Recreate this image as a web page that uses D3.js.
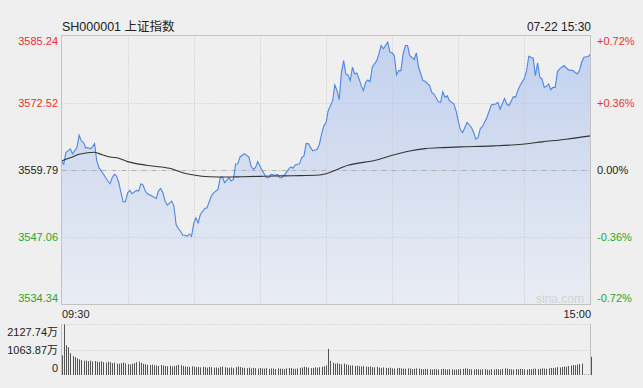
<!DOCTYPE html>
<html>
<head>
<meta charset="utf-8">
<script src="https://cdn.jsdelivr.net/npm/d3@7/dist/d3.min.js"></script>
<style>
body { margin:0; background:#efefef; }
text { font-family: "Liberation Sans", Arial, "Noto Sans CJK SC", sans-serif; }
</style>
</head>
<body>
<svg width="643" height="388"></svg>
<script>
// 分时数据 (minute offset from 09:30, lunch break skipped)
var priceMin = [0,1,2,4,5,7,8,9,10,11,12,13,14,15,16,17,19,21,22,23,24,25,26,27,28,29,30,31,32,34,35,36,37,38,39,41,43,44,45,46,47,48,50,51,52,53,54,55,56,57,58,59,60,61,62,63,65,66,68,69,71,72,73,74,76,77,78,79,80,81,83,85,86,87,88,89,90,91,93,94,95,97,98,99,100,101,103,104,105,106,108,109,110,111,112,113,114,116,117,118,119,120,
  121,122,123,124,125,126,127,128,129,130,131,132,133,134,135,136,137,138,139,140,141,143,144,145,146,148,149,150,151,152,153,154,155,156,157,158,160,161,162,164,165,167,168,169,171,172,173,174,175,176,178,179,180,181,182,184,186,187,188,189,190,191,193,195,197,198,199,201,202,203,205,206,207,208,210,211,212,213,214,215,216,217,218,219,220,221,222,223,224,225,226,228,230,232,234,235,236,237,239,240];
var priceVal = [3561.50,3560.87,3563.08,3563.78,3562.83,3564.03,3566.38,3565.30,3564.98,3563.97,3564.03,3563.78,3564.16,3564.79,3561.50,3560.23,3559.03,3557.70,3557.19,3558.33,3558.97,3558.65,3557.38,3555.48,3553.77,3553.77,3555.48,3555.93,3555.29,3555.93,3555.80,3557.19,3556.94,3555.80,3555.29,3554.85,3554.41,3555.80,3556.31,3555.48,3553.90,3553.14,3553.90,3552.95,3549.47,3548.71,3548.20,3547.44,3547.44,3547.25,3547.69,3547.25,3549.72,3550.73,3549.78,3551.37,3552.51,3552.63,3554.85,3555.48,3556.12,3558.33,3558.46,3557.38,3558.33,3557.70,3558.02,3560.87,3560.99,3562.26,3562.89,3562.26,3560.55,3559.92,3560.23,3561.37,3560.55,3559.73,3558.33,3558.33,3558.97,3558.78,3558.97,3558.33,3558.33,3558.78,3559.92,3560.36,3560.11,3560.74,3560.99,3562.13,3562.45,3564.79,3564.79,3564.03,3563.40,3563.72,3564.67,3566.57,3568.15,3568.72,
  3571.00,3571.95,3572.90,3575.88,3574.80,3573.09,3578.28,3580.50,3577.97,3577.78,3576.70,3579.23,3577.97,3578.16,3577.02,3575.75,3574.80,3576.38,3576.83,3576.51,3579.23,3580.50,3581.77,3583.35,3582.72,3583.98,3582.08,3581.96,3581.45,3577.78,3578.60,3578.60,3581.77,3583.35,3583.35,3581.45,3580.69,3581.96,3579.23,3576.70,3576.57,3575.75,3574.48,3574.17,3572.71,3572.58,3574.61,3573.53,3573.85,3572.90,3572.27,3571.00,3569.10,3567.39,3566.88,3568.78,3567.83,3566.88,3565.62,3565.93,3567.64,3568.02,3569.73,3572.08,3572.27,3572.58,3571.32,3573.34,3572.27,3571.95,3573.66,3573.53,3574.80,3575.75,3577.14,3578.60,3581.32,3581.13,3580.94,3577.65,3580.06,3577.33,3577.02,3575.43,3575.62,3576.07,3574.99,3575.43,3575.43,3578.41,3578.92,3579.55,3578.73,3578.60,3577.97,3578.60,3580.18,3581.13,3581.26,3581.77];

// 均价线
var avgMin = [0,2,5,8,11,15,17,22,26,30,34,41,49,55,60,67,75,82,90,97,105,117,120,130,143,150,158,165,173,181,196,209,218,229,240];
var avgVal = [3561.50,3561.82,3562.26,3562.77,3563.02,3563.15,3562.89,3562.26,3562.01,3561.37,3560.99,3560.55,3560.11,3559.28,3558.84,3558.52,3558.46,3558.52,3558.59,3558.65,3558.71,3558.84,3559.09,3560.68,3561.69,3562.58,3563.40,3563.84,3564.03,3564.16,3564.35,3564.67,3565.11,3565.62,3566.25];

// 成交量 (万手), one per minute
var volume = [830,2128,1250,1170,920,800,750,700,660,630,600,610,580,600,570,590,560,550,580,540,520,560,540,500,520,480,470,500,520,490,460,440,470,500,540,560,510,470,450,430,420,440,410,400,380,420,400,380,370,390,360,380,400,430,410,380,360,350,340,370,350,330,340,320,350,330,310,340,330,310,320,300,340,360,330,310,300,320,290,330,360,340,310,300,290,310,280,300,290,270,300,280,270,290,260,280,270,250,280,270,260,250,280,300,290,270,260,280,300,320,350,330,310,290,300,320,310,330,350,370,400,
  1100,600,520,480,500,470,450,480,440,420,400,410,380,390,370,360,380,350,340,360,330,320,340,310,300,320,300,290,310,280,270,290,300,280,270,260,280,270,250,260,280,270,250,240,260,250,240,230,250,240,230,250,260,240,230,250,240,220,230,240,250,260,280,270,250,240,230,250,240,230,240,250,230,220,240,230,250,240,230,260,280,270,250,240,230,250,240,260,250,240,230,250,240,260,270,250,260,280,270,260,280,300,290,310,330,320,340,360,350,380,400,420,410,440,460,480,20,20,20,770];

var leftTicks = [3585.24,3572.52,3559.79,3547.06,3534.34];
var rightTicks = ["+0.72%","+0.36%","0.00%","-0.36%","-0.72%"];
var volTicks = [2127.74,1063.87,0];
var timeLabels = ["09:30","15:00"];
var preClose = 3559.79;

var svg = d3.select("svg");
var L = 61.5, R = 590.5, T = 35.5, B = 304.5;
var VT = 324.5, VB = 375;

var x = d3.scaleLinear().domain([0,240]).range([L,R]);
var y = d3.scaleLinear().domain([3534.34,3585.24]).range([B,T]);
var yv = d3.scaleLinear().domain([0,2127.74]).range([VB,VT]);

// 渐变
var grad = svg.append("defs").append("linearGradient")
  .attr("id","fillg").attr("x1",0).attr("y1",0).attr("x2",0).attr("y2",1);
grad.append("stop").attr("offset","0%").attr("stop-color","#c2d1ef");
grad.append("stop").attr("offset","100%").attr("stop-color","#e9ecf3");

// 面积
var pts = priceMin.map(function(m,i){ return [m, priceVal[i]]; });
svg.append("path").datum(pts)
  .attr("d", d3.area().x(function(d){return x(d[0]);}).y0(B).y1(function(d){return y(d[1]);}))
  .attr("fill","url(#fillg)");

// 网格 (drawn over the fill)
for (var i=1; i<8; ++i) {
  svg.append("line").attr("x1",Math.round(x(i*30))+0.5).attr("x2",Math.round(x(i*30))+0.5)
    .attr("y1",T).attr("y2",B).attr("stroke","#c4c4c4").attr("stroke-dasharray","1,2");
}
leftTicks.forEach(function(v,i){
  if (i==0 || i==4) return;
  var yy = Math.round(y(v))+0.5;
  svg.append("line").attr("x1",L).attr("x2",R).attr("y1",yy).attr("y2",yy)
    .attr("stroke", i==2 ? "#b0b0b0" : "#c4c4c4")
    .attr("stroke-dasharray", i==2 ? "5,2,1,2" : "1,2");
});

// 价格线 + 均价线
svg.append("path").datum(pts)
  .attr("d", d3.line().x(function(d){return x(d[0]);}).y(function(d){return y(d[1]);}))
  .attr("fill","none").attr("stroke","#4c86e6").attr("stroke-width",1.1);

var apts = avgMin.map(function(m,i){ return [m, avgVal[i]]; });
svg.append("path").datum(apts)
  .attr("d", d3.line().curve(d3.curveMonotoneX).x(function(d){return x(d[0]);}).y(function(d){return y(d[1]);}))
  .attr("fill","none").attr("stroke","#333").attr("stroke-width",1.1);

// 边框
svg.append("rect").attr("x",L).attr("y",T).attr("width",R-L).attr("height",B-T)
  .attr("fill","none").attr("stroke","#c2c2c2");

svg.append("text").attr("x",560).attr("y",303).attr("text-anchor","middle")
  .attr("font-size",12).attr("fill","#d2d2d2").text("sina.com");

// 左右刻度
leftTicks.forEach(function(v,i){
  var yy = y(v) + 4;
  if (i==0) yy = 44.5;
  if (i==4) yy = 301.5;
  var col = v > preClose ? "#f0302a" : (v < preClose ? "#2aa52a" : "#222");
  svg.append("text").attr("x",58).attr("y",yy).attr("text-anchor","end")
    .attr("font-size",11).attr("fill",col).text(d3.format(".2f")(v));
  svg.append("text").attr("x",597).attr("y",yy).attr("text-anchor","start")
    .attr("font-size",11).attr("fill",col).text(rightTicks[i]);
});

svg.append("text").attr("x",62).attr("y",31).attr("font-size",12.5).attr("fill","#222")
  .text("SH000001 上证指数");
svg.append("text").attr("x",591).attr("y",31).attr("text-anchor","end").attr("font-size",12)
  .attr("fill","#222").text("07-22 15:30");

svg.append("text").attr("x",62).attr("y",318).attr("font-size",11).attr("fill","#222").text(timeLabels[0]);
svg.append("text").attr("x",591).attr("y",318).attr("text-anchor","end").attr("font-size",11).attr("fill","#222").text(timeLabels[1]);

// 成交量
[VT, Math.round(yv(1063.87))+0.5].forEach(function(yy){
  svg.append("line").attr("x1",L).attr("x2",R).attr("y1",yy).attr("y2",yy)
    .attr("stroke","#c6c6c6").attr("stroke-dasharray","1,2");
});
svg.append("line").attr("x1",L).attr("x2",L).attr("y1",VT).attr("y2",VB).attr("stroke","#c2c2c2");
svg.append("line").attr("x1",R).attr("x2",R).attr("y1",VT).attr("y2",VB).attr("stroke","#c2c2c2");

svg.selectAll(".vb").data(volume).enter().append("rect").classed("vb",1)
  .attr("x", function(d,i){ return Math.round(x(i)); })
  .attr("y", function(d){ return yv(d); })
  .attr("width", 1)
  .attr("height", function(d){ return VB - yv(d); })
  .attr("fill","#555");

volTicks.forEach(function(v,i){
  var yy = [336,354,372][i];
  svg.append("text").attr("x",58).attr("y",yy).attr("text-anchor","end")
    .attr("font-size",11).attr("fill","#222").text(v==0 ? "0" : d3.format(".2f")(v)+"万");
});
</script>
</body>
</html>
